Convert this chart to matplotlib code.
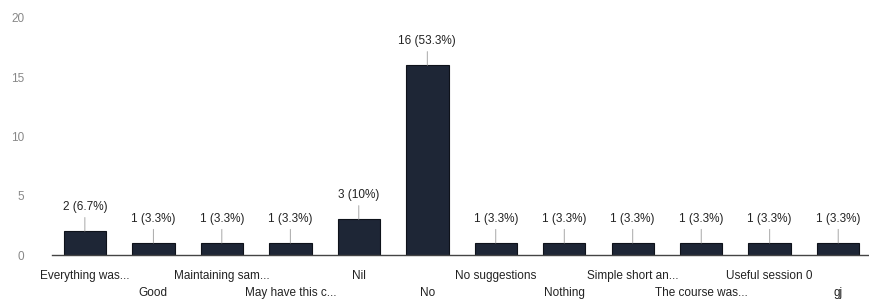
import matplotlib.pyplot as plt
import matplotlib.transforms as mtransforms

categories = [
    "Everything was...", "Good", "Maintaining sam...", "May have this c...",
    "Nil", "No", "No suggestions", "Nothing", "Simple short an...",
    "The course was...", "Useful session 0", "gj",
]
counts = [2, 1, 1, 1, 3, 16, 1, 1, 1, 1, 1, 1]
percents = ["6.7%", "3.3%", "3.3%", "3.3%", "10%", "53.3%",
            "3.3%", "3.3%", "3.3%", "3.3%", "3.3%", "3.3%"]
y_ticks = [0, 5, 10, 15, 20]

plt.rcParams["font.family"] = ["Liberation Sans", "DejaVu Sans"]

fig = plt.figure(figsize=(8.69, 3.0), dpi=100)
ax = fig.add_axes([52 / 869, 0.15, 817 / 869, 0.79])

xs = list(range(len(categories)))
ax.bar(xs, counts, width=0.62, color="#1e2636", edgecolor="#0e121a", linewidth=0.8)

for x, c, p in zip(xs, counts, percents):
    ax.annotate(f"{c} ({p})", xy=(x, c), xytext=(0, 18), textcoords="offset pixels",
                ha="center", va="bottom", fontsize=8.5, color="#222222",
                arrowprops=dict(arrowstyle="-", color="#999999", lw=0.6,
                                shrinkA=1, shrinkB=0))

ax.set_xlim(-0.48, 11.45)
ax.set_ylim(0, 20)
ax.set_yticks(y_ticks)
ax.tick_params(axis="y", length=0, pad=20, labelsize=8.5, labelcolor="#888888")
ax.set_xticks([])
for side in ["top", "right", "left"]:
    ax.spines[side].set_visible(False)
ax.spines["bottom"].set_color("#444444")
ax.spines["bottom"].set_linewidth(1.0)

trans = mtransforms.blended_transform_factory(ax.transData, fig.transFigure)
for i, label in enumerate(categories):
    y = 1 - 276 / 300 if i % 2 == 0 else 1 - 293 / 300
    fig.text(i, y, label, transform=trans, ha="center", va="center",
             fontsize=8.5, color="#222222")

fig.savefig("out.png", dpi=100)
